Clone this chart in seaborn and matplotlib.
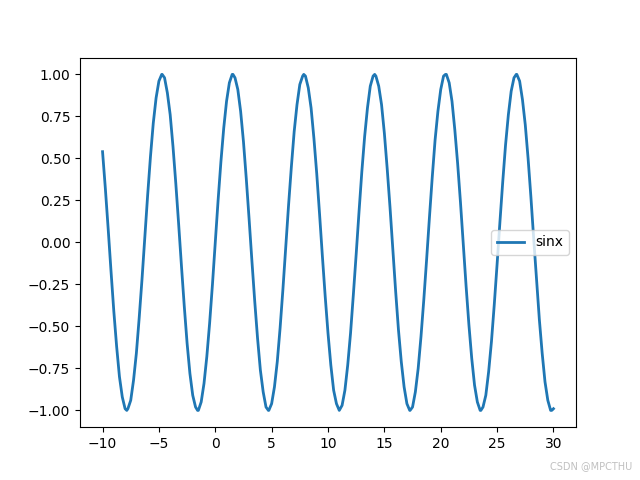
import matplotlib
matplotlib.use("Agg")
import matplotlib.pyplot as plt
import seaborn as sns

# x positions (step 0.25 from -10 to 30)
x_start = -10.0
x_step = 0.25

# sinx values
sin_values = [
    0.54, 0.32, 0.08, -0.17, -0.41, -0.62, -0.80, -0.92, -0.99, -0.99,
    -0.94, -0.82, -0.66, -0.45, -0.22, 0.03, 0.28, 0.51, 0.71, 0.86,
    0.96, 1.00, 0.98, 0.89, 0.76, 0.57, 0.35, 0.11, -0.14, -0.38,
    -0.60, -0.78, -0.91, -0.98, -1.00, -0.95, -0.84, -0.68, -0.48, -0.25,
    0.00, 0.25, 0.48, 0.68, 0.84, 0.95, 1.00, 0.98, 0.91, 0.78,
    0.60, 0.38, 0.14, -0.11, -0.35, -0.57, -0.76, -0.89, -0.98, -1.00,
    -0.96, -0.86, -0.71, -0.51, -0.28, -0.03, 0.22, 0.45, 0.66, 0.82,
    0.94, 0.99, 0.99, 0.92, 0.80, 0.62, 0.41, 0.17, -0.08, -0.32,
    -0.54, -0.73, -0.88, -0.96, -1.00, -0.97, -0.88, -0.73, -0.54, -0.31,
    -0.07, 0.18, 0.42, 0.63, 0.80, 0.93, 0.99, 0.99, 0.93, 0.82,
    0.65, 0.44, 0.21, -0.04, -0.29, -0.52, -0.71, -0.86, -0.96, -1.00,
    -0.98, -0.89, -0.75, -0.56, -0.34, -0.10, 0.15, 0.39, 0.61, 0.78,
    0.91, 0.99, 1.00, 0.95, 0.84, 0.67, 0.47, 0.24, -0.01, -0.26,
    -0.49, -0.69, -0.85, -0.95, -1.00, -0.98, -0.91, -0.77, -0.59, -0.37,
    -0.13, 0.12, 0.36, 0.58, 0.76, 0.90, 0.98, 1.00, 0.96, 0.85,
    0.70, 0.50, 0.27, 0.02, -0.22, -0.46, -0.66, -0.83, -0.94, -1.00,
    -0.99,
]

# peaks and troughs
peak_x = [-7.85, -4.71, -1.57, 1.57, 4.71, 7.85, 10.99,
          14.14, 17.28, 20.42, 23.56, 26.70, 29.85]
peak_y = [-1.00, 1.00, -1.00, 1.00, -1.00, 1.00, -1.00,
          1.00, -1.00, 1.00, -1.00, 1.00, -1.00]

x_values = [x_start + x_step * i for i in range(len(sin_values))]
points = sorted(zip(x_values + peak_x, sin_values + peak_y))
xs = [p[0] for p in points]
ys = [p[1] for p in points]

fig, ax = plt.subplots(figsize=(6.4, 4.8), dpi=100)
sns.lineplot(x=xs, y=ys, ax=ax, label="sinx",
             linewidth=2, color="#1f77b4", sort=False)
ax.set_yticks([-1.0, -0.75, -0.5, -0.25, 0.0, 0.25, 0.5, 0.75, 1.0])
ax.legend(loc="center right")

# watermark
fig.text(0.988, 0.018, "CSDN @MPCTHU", ha="right", va="bottom",
         fontsize=7, color="#c0c0c0")

plt.savefig("out.png")
